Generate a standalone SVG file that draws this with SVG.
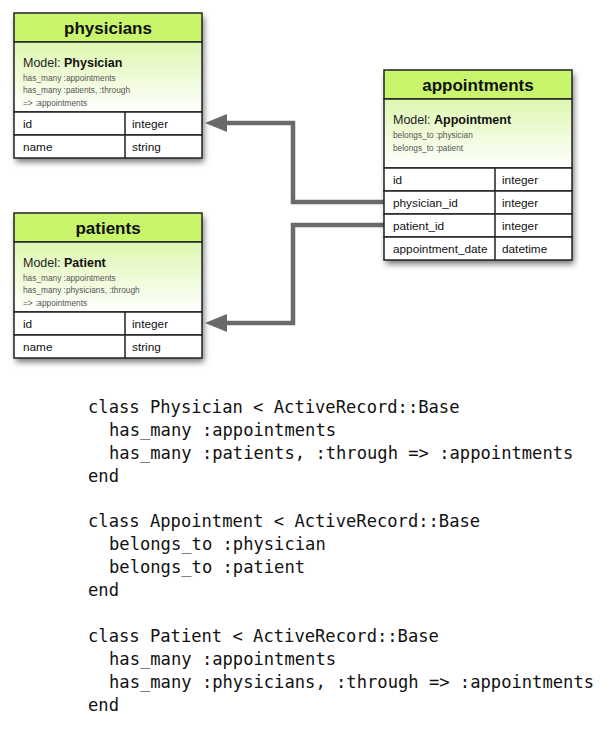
<svg xmlns="http://www.w3.org/2000/svg" width="612" height="734" viewBox="0 0 612 734">
<style>
  .title { font-family: "Liberation Sans", Arial, sans-serif; font-size: 17px; font-weight: bold; fill: #111; text-anchor: middle; }
  .model { font-family: "Liberation Sans", Arial, sans-serif; font-size: 12.5px; fill: #222; }
  .model tspan.b { font-weight: bold; fill: #111; }
  .small { font-family: "Liberation Sans", Arial, sans-serif; font-size: 8.3px; fill: #555; }
  .cell { font-family: "Liberation Sans", Arial, sans-serif; font-size: 11.8px; fill: #111; }
  .hdr { fill: #c8f56c; stroke: #222; stroke-width: 1.5; }
  .body { fill: url(#bodyGrad); stroke: #222; stroke-width: 1.5; }
  .row { fill: #fff; stroke: #222; stroke-width: 1.5; }
  .conn { fill: none; stroke: #6a6a6a; stroke-width: 4.5; }
  .code { font-family: "DejaVu Sans Mono", "Liberation Mono", monospace; font-size: 17.15px; fill: #111; }
</style>
<defs>
  <linearGradient id="bodyGrad" x1="0" y1="0" x2="0" y2="1">
    <stop offset="0" stop-color="#def7b0"/>
    <stop offset="1" stop-color="#ffffff"/>
  </linearGradient>
  <filter id="shadow" x="-10%" y="-10%" width="130%" height="130%">
    <feDropShadow dx="2" dy="4" stdDeviation="3" flood-color="#000" flood-opacity="0.55"/>
  </filter>
  <marker id="arrow" markerWidth="22" markerHeight="18" refX="12" refY="9" orient="auto" markerUnits="userSpaceOnUse">
    <path d="M0,0 L22,9 L0,18 Z" fill="#6a6a6a"/>
  </marker>
</defs>

<g id="connectors">
  <path class="conn" d="M384,202 H293 V123 H215" marker-end="url(#arrow)"/>
  <path class="conn" d="M384,225 H293 V323 H215" marker-end="url(#arrow)"/>
</g>

<g id="physicians">
  <g filter="url(#shadow)">
    <rect x="14" y="13" width="188" height="145" fill="#fff"/>
  </g>
  <rect class="hdr" x="14" y="13" width="188" height="29"/>
  <rect class="body" x="14" y="42" width="188" height="70"/>
  <rect class="row" x="14" y="112" width="188" height="23"/>
  <rect class="row" x="14" y="135" width="188" height="23"/>
  <line x1="125" y1="112" x2="125" y2="158" stroke="#222" stroke-width="1.5"/>
  <text class="title" x="108" y="34">physicians</text>
  <text class="model" x="23" y="67">Model: <tspan class="b">Physician</tspan></text>
  <text class="small" x="23" y="81">has_many :appointments</text>
  <text class="small" x="23" y="93">has_many :patients, :through</text>
  <text class="small" x="23" y="106">=&gt; :appointments</text>
  <text class="cell" x="23" y="128">id</text>
  <text class="cell" x="132" y="128">integer</text>
  <text class="cell" x="23" y="151">name</text>
  <text class="cell" x="132" y="151">string</text>
</g>

<g id="patients">
  <g filter="url(#shadow)">
    <rect x="14" y="213" width="188" height="145" fill="#fff"/>
  </g>
  <rect class="hdr" x="14" y="213" width="188" height="29"/>
  <rect class="body" x="14" y="242" width="188" height="70"/>
  <rect class="row" x="14" y="312" width="188" height="23"/>
  <rect class="row" x="14" y="335" width="188" height="23"/>
  <line x1="125" y1="312" x2="125" y2="358" stroke="#222" stroke-width="1.5"/>
  <text class="title" x="108" y="234">patients</text>
  <text class="model" x="23" y="267">Model: <tspan class="b">Patient</tspan></text>
  <text class="small" x="23" y="281">has_many :appointments</text>
  <text class="small" x="23" y="293">has_many :physicians, :through</text>
  <text class="small" x="23" y="306">=&gt; :appointments</text>
  <text class="cell" x="23" y="328">id</text>
  <text class="cell" x="132" y="328">integer</text>
  <text class="cell" x="23" y="351">name</text>
  <text class="cell" x="132" y="351">string</text>
</g>

<g id="appointments">
  <g filter="url(#shadow)">
    <rect x="384" y="70" width="188" height="190" fill="#fff"/>
  </g>
  <rect class="hdr" x="384" y="70" width="188" height="29"/>
  <rect class="body" x="384" y="99" width="188" height="69"/>
  <rect class="row" x="384" y="168" width="188" height="23"/>
  <rect class="row" x="384" y="191" width="188" height="23"/>
  <rect class="row" x="384" y="214" width="188" height="23"/>
  <rect class="row" x="384" y="237" width="188" height="23"/>
  <line x1="495" y1="168" x2="495" y2="260" stroke="#222" stroke-width="1.5"/>
  <text class="title" x="478" y="91">appointments</text>
  <text class="model" x="393" y="124">Model: <tspan class="b">Appointment</tspan></text>
  <text class="small" x="393" y="138">belongs_to :physician</text>
  <text class="small" x="393" y="151">belongs_to :patient</text>
  <text class="cell" x="393" y="184">id</text>
  <text class="cell" x="502" y="184">integer</text>
  <text class="cell" x="393" y="207">physician_id</text>
  <text class="cell" x="502" y="207">integer</text>
  <text class="cell" x="393" y="230">patient_id</text>
  <text class="cell" x="502" y="230">integer</text>
  <text class="cell" x="393" y="253">appointment_date</text>
  <text class="cell" x="502" y="253">datetime</text>
</g>

<g id="code">
  <text class="code" x="88" y="413">class Physician &lt; ActiveRecord::Base</text>
  <text class="code" x="109" y="436">has_many :appointments</text>
  <text class="code" x="109" y="459">has_many :patients, :through =&gt; :appointments</text>
  <text class="code" x="88" y="482">end</text>
  <text class="code" x="88" y="527">class Appointment &lt; ActiveRecord::Base</text>
  <text class="code" x="109" y="550">belongs_to :physician</text>
  <text class="code" x="109" y="573">belongs_to :patient</text>
  <text class="code" x="88" y="596">end</text>
  <text class="code" x="88" y="642">class Patient &lt; ActiveRecord::Base</text>
  <text class="code" x="109" y="665">has_many :appointments</text>
  <text class="code" x="109" y="688">has_many :physicians, :through =&gt; :appointments</text>
  <text class="code" x="88" y="711">end</text>
</g>
</svg>
